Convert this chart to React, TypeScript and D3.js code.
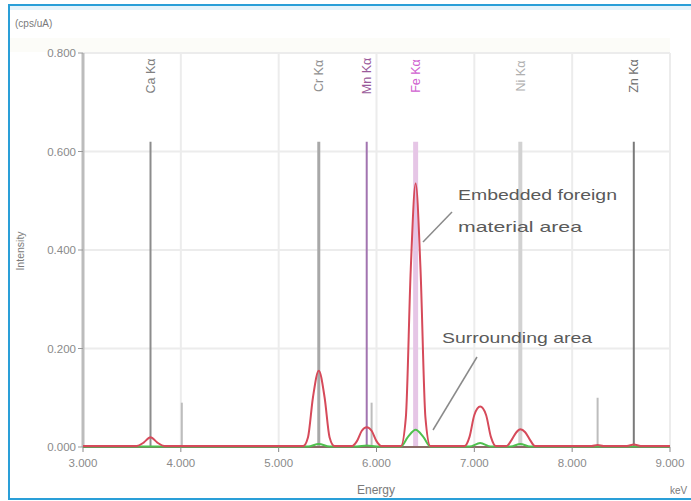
import * as d3 from 'd3';
import * as React from 'react';

// element marker lines (keV) and their heights (cps/uA)
const markerNames = ['Ca Kα', 'Cr Kα', 'Mn Kα', 'Fe Kα', 'Ni Kα', 'Zn Kα'];
const markerEnergy = [3.69, 5.41, 5.9, 6.4, 7.47, 8.63];
const markerHeight = [0.62, 0.62, 0.62, 0.62, 0.62, 0.62];

const minorEnergy = [4.01, 5.95, 8.26];
const minorHeight = [0.09, 0.09, 0.1];

const xTicks = [3, 4, 5, 6, 7, 8, 9];
const yTicks = [0, 0.2, 0.4, 0.6, 0.8];

// embedded foreign material spectrum (keV, cps/uA)
const foreignE = [
  3.0, 3.55, 3.62, 3.69, 3.76, 3.83, 5.25, 5.3, 5.35, 5.41, 5.47, 5.52, 5.57,
  5.75, 5.8, 5.85, 5.9, 5.95, 6.0, 6.05, 6.25, 6.3, 6.35, 6.4, 6.45, 6.5, 6.55,
  6.9, 6.95, 7.0, 7.06, 7.12, 7.17, 7.22, 7.33, 7.38, 7.43, 7.47, 7.52, 7.57,
  7.62, 8.2, 8.26, 8.32, 8.56, 8.63, 8.7, 9.0,
];
const foreignI = [
  0.002, 0.002, 0.009, 0.02, 0.009, 0.002, 0.002, 0.02, 0.1, 0.155, 0.1, 0.02,
  0.002, 0.002, 0.012, 0.033, 0.04, 0.033, 0.012, 0.002, 0.002, 0.06, 0.36,
  0.535, 0.36, 0.06, 0.002, 0.002, 0.02, 0.065, 0.082, 0.065, 0.02, 0.002,
  0.002, 0.014, 0.03, 0.036, 0.03, 0.014, 0.002, 0.002, 0.004, 0.002, 0.002,
  0.005, 0.002, 0.002,
];

// surrounding area spectrum
const surroundE = [
  3.0, 5.3, 5.41, 5.52, 5.8, 5.9, 6.0, 6.25, 6.32, 6.4, 6.48, 6.55, 6.95, 7.06,
  7.17, 7.37, 7.47, 7.57, 9.0,
];
const surroundI = [
  0.001, 0.001, 0.006, 0.001, 0.001, 0.003, 0.001, 0.001, 0.02, 0.035, 0.02,
  0.001, 0.001, 0.008, 0.001, 0.001, 0.006, 0.001, 0.001,
];

const markerColor: Record<string, string> = {
  'Ca Kα': '#8c8c8c',
  'Cr Kα': '#a8a8a8',
  'Mn Kα': '#a274b0',
  'Fe Kα': '#e6c6e6',
  'Ni Kα': '#d2d2d2',
  'Zn Kα': '#7a7a7a',
};
const markerText: Record<string, string> = {
  'Ca Kα': '#808080',
  'Cr Kα': '#909090',
  'Mn Kα': '#9a5a9a',
  'Fe Kα': '#d060d0',
  'Ni Kα': '#b0b0b0',
  'Zn Kα': '#707070',
};
const markerWidth: Record<string, number> = {
  'Ca Kα': 2,
  'Cr Kα': 3,
  'Mn Kα': 2,
  'Fe Kα': 5,
  'Ni Kα': 4,
  'Zn Kα': 2,
};

const W = 691;
const H = 501;
const left = 83;
const right = 670;
const top = 53;
const bottom = 447;
const font = 'Liberation Sans, Arial, sans-serif';

export default function App() {
  const x = d3.scaleLinear().domain([3, 9]).range([left, right]);
  const y = d3.scaleLinear().domain([0, 0.8]).range([bottom, top]);

  const line = d3
    .line<[number, number]>()
    .x((d) => x(d[0]))
    .y((d) => y(d[1]))
    .curve(d3.curveMonotoneX);

  const foreign = foreignE.map((e, i) => [e, foreignI[i]] as [number, number]);
  const surround = surroundE.map(
    (e, i) => [e, surroundI[i]] as [number, number]
  );

  return (
    <svg
      width={W}
      height={H}
      style={{ position: 'absolute', left: 0, top: 0, background: '#fff' }}
      fontFamily={font}
    >
      <rect x={9} y={5} width={W} height={H - 7} fill="#fff" stroke="#2a9fd8" strokeWidth={2} />
      <rect x={10} y={6} width={W} height={4} fill="#e4f3fb" />
      <rect x={10} y={38} width={right - 10} height={14} fill="#fcfcf8" />

      {/* grid */}
      {xTicks.map((t) => (
        <line key={'gx' + t} x1={x(t)} x2={x(t)} y1={top} y2={bottom} stroke="#ececec" strokeWidth={2} />
      ))}
      {yTicks.map((t) => (
        <line key={'gy' + t} x1={left} x2={right} y1={y(t)} y2={y(t)} stroke="#ececec" strokeWidth={2} />
      ))}

      {/* minor marker lines */}
      {minorEnergy.map((e, i) => (
        <line key={'mn' + e} x1={x(e)} x2={x(e)} y1={y(0)} y2={y(minorHeight[i])} stroke="#bdbdbd" strokeWidth={2} />
      ))}

      {/* marker lines */}
      {markerNames.map((n, i) => (
        <line
          key={n}
          x1={x(markerEnergy[i])}
          x2={x(markerEnergy[i])}
          y1={y(0)}
          y2={y(markerHeight[i])}
          stroke={markerColor[n]}
          strokeWidth={markerWidth[n]}
        />
      ))}
      {markerNames.map((n, i) => (
        <text
          key={'t' + n}
          transform={`translate(${x(markerEnergy[i]) + 4.5},76) rotate(-90)`}
          textAnchor="middle"
          fontSize={12.5}
          fill={markerText[n]}
        >
          {n}
        </text>
      ))}

      {/* axes */}
      <line x1={left} x2={left} y1={top} y2={bottom} stroke="#bcbcbc" strokeWidth={3} />
      {yTicks.map((t) => (
        <g key={'yt' + t}>
          <line x1={left - 5} x2={left} y1={y(t)} y2={y(t)} stroke="#999" />
          <text x={left - 7} y={y(t) + 4} textAnchor="end" fontSize={11.5} fill="#8a8a8a">
            {d3.format('.3f')(t)}
          </text>
        </g>
      ))}
      <line x1={left} x2={right} y1={bottom} y2={bottom} stroke="#8a6a66" strokeWidth={2} />
      {xTicks.map((t) => (
        <g key={'xt' + t}>
          <line x1={x(t)} x2={x(t)} y1={bottom} y2={bottom + 5} stroke="#888" />
          <text x={x(t)} y={bottom + 20} textAnchor="middle" fontSize={11.5} fill="#8a8a8a">
            {d3.format('.3f')(t)}
          </text>
        </g>
      ))}

      {/* spectra */}
      <path d={line(surround) ?? ''} fill="none" stroke="#4fc04f" strokeWidth={2} />
      <path d={line(foreign) ?? ''} fill="none" stroke="#d64a5a" strokeWidth={2} />

      {/* axis titles */}
      <text x={15} y={27} fontSize={10} fill="#7a7a7a">(cps/uA)</text>
      <text transform="translate(24,251) rotate(-90)" textAnchor="middle" fontSize={10.5} fill="#7a7a7a">
        Intensity
      </text>
      <text x={357} y={494} fontSize={12} fill="#7a7a7a">Energy</text>
      <text x={670} y={494} fontSize={10} fill="#7a7a7a">keV</text>

      {/* annotations */}
      <text x={458} y={200} fontSize={15} fill="#5a5a5a" textLength={159} lengthAdjust="spacingAndGlyphs">
        Embedded foreign
      </text>
      <text x={458} y={232} fontSize={15} fill="#5a5a5a" textLength={124} lengthAdjust="spacingAndGlyphs">
        material area
      </text>
      <line x1={452} y1={212} x2={423} y2={242} stroke="#8a8a8a" strokeWidth={1.5} />
      <text x={442} y={343} fontSize={15} fill="#5a5a5a" textLength={150} lengthAdjust="spacingAndGlyphs">
        Surrounding area
      </text>
      <line x1={477} y1={357} x2={433} y2={430} stroke="#8a8a8a" strokeWidth={1.5} />
    </svg>
  );
}
